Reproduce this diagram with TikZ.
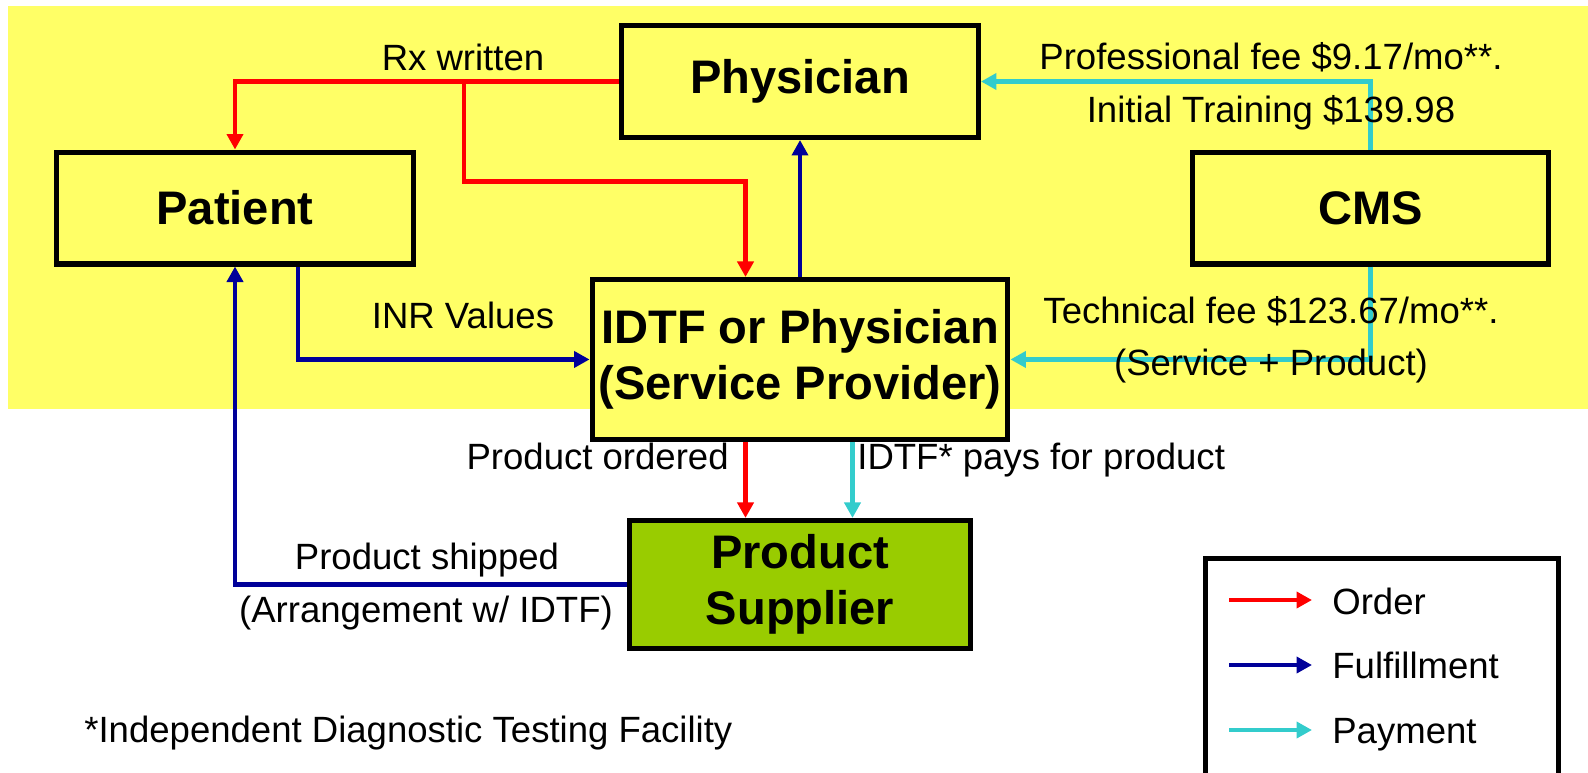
\documentclass[tikz,border=0pt]{standalone}
\usepackage{fontspec}
\setmainfont{Liberation Sans}
\usepackage{xcolor}
\usetikzlibrary{arrows.meta, positioning}

\definecolor{bgyellow}{RGB}{255,255,102}
\definecolor{supplygreen}{RGB}{153,204,0}
\definecolor{rxred}{RGB}{255,0,0}
\definecolor{fulfilblue}{RGB}{0,0,153}
\definecolor{paycyan}{RGB}{51,204,204}

\begin{document}
\begin{tikzpicture}[
    x=0.02cm, y=-0.02cm,
    box/.style={draw, line width=2.85pt, fill=bgyellow, align=center, inner sep=0pt, minimum width=7.14cm, minimum height=2.24cm, font=\fontsize{26.8}{32}\selectfont\bfseries},
    supplier/.style={box, fill=supplygreen, minimum width=6.82cm, minimum height=2.56cm},
    lbl/.style={inner sep=0pt, font=\fontsize{20.8}{25}\selectfont},
    flow/.style={-{Triangle[length=3.1mm, width=3.2mm]}, line width=2.5pt},
    order/.style={flow, draw=rxred},
    fulfil/.style={flow, draw=fulfilblue},
    pay/.style={flow, draw=paycyan}
]
\useasboundingbox (0,0) rectangle (1588,772);

% upper shaded band
\fill[bgyellow] (8,6) rectangle (1588,409);

\node[box] (physician) at (800,81.5) {Physician};
\node[box] (patient) at (235,208) {Patient};
\node[box] (cms) at (1370.5,208) {CMS};
\node[box, below=2.74cm of physician, minimum width=8.32cm, minimum height=3.2cm] (idtf) {IDTF or Physician\\(Service Provider)};
\node[supplier, below=1.52cm of idtf] (supplier) {Product\\Supplier};

% prescription goes out to patient and provider
\coordinate (rxsplit) at (464,81.5);
\draw[order] (physician.west) -| (patient.north);
\draw[order] (rxsplit) -- ++(0,100) -| ([xshift=-1.09cm]idtf.north);

\draw[fulfil] (idtf.north) -- (idtf.north |- physician.south);
\draw[fulfil] ([xshift=1.26cm]patient.south) |- (idtf.west);
\draw[fulfil] (supplier.west) -| (patient.south);

\draw[pay] (cms.north) |- (physician.east);
\draw[pay] (cms.south) |- (idtf.east);

\coordinate (orderout) at ([xshift=-1.09cm]idtf.south);
\coordinate (payout) at ([xshift=1.05cm]idtf.south);
\draw[order] (orderout) -- (orderout |- supplier.north);
\draw[pay] (payout) -- (payout |- supplier.north);

% connector labels
\node[lbl, anchor=base] (rxlbl) at (463,70) {Rx written};
\node[lbl, anchor=base] (inrlbl) at (463,328) {INR Values};
\node[lbl, anchor=base] (proflbl) at (1271,69) {Professional fee \$9.17/mo**.};
\node[lbl, anchor=base] (trainlbl) at (1271,122) {Initial Training \$139.98};
\node[lbl, anchor=base] (techlbl) at (1271,323) {Technical fee \$123.67/mo**.};
\node[lbl, anchor=base] (svclbl) at (1271,375) {(Service + Product)};
\node[lbl, anchor=base east] (orderedlbl) at (729,469) {Product ordered};
\node[lbl, anchor=base west] (payslbl) at (857,469) {IDTF* pays for product};
\node[lbl, anchor=base] (shippedlbl) at (427,569) {Product shipped};
\node[lbl, anchor=base] (arrangelbl) at (426,622) {(Arrangement w/ IDTF)};

\node[lbl, anchor=base west] (footnote) at (84,742) {*Independent Diagnostic Testing Facility};

% key
\node[draw, line width=2.85pt, fill=white, minimum width=7.06cm, minimum height=5.44cm] (legend) at (1382,694.5) {};
\coordinate (keyorderA) at (1229,600);
\coordinate (keyorderB) at (1312,600);
\coordinate (keyfulfilA) at (1229,665);
\coordinate (keyfulfilB) at (1312,665);
\coordinate (keypayA) at (1229,730);
\coordinate (keypayB) at (1312,730);
\draw[order] (keyorderA) -- (keyorderB);
\draw[fulfil] (keyfulfilA) -- (keyfulfilB);
\draw[pay] (keypayA) -- (keypayB);
\node[lbl, anchor=base west] (keyorder) at (1332,614) {Order};
\node[lbl, anchor=base west] (keyfulfil) at (1332,678) {Fulfillment};
\node[lbl, anchor=base west] (keypay) at (1332,743) {Payment};

\end{tikzpicture}
\end{document}
